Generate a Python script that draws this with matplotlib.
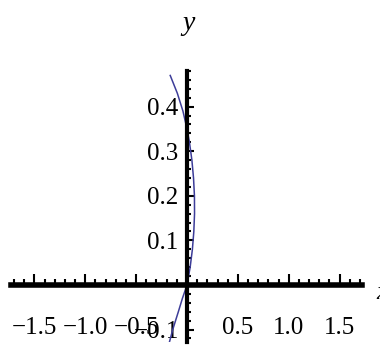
import matplotlib.pyplot as plt
from matplotlib.ticker import MultipleLocator

# points (x as a function of y)
curve_y = [-0.13, -0.10, -0.06, -0.03, 0.0, 0.04, 0.08, 0.12, 0.16, 0.20,
           0.24, 0.28, 0.32, 0.35, 0.39, 0.43, 0.45, 0.47]
curve_x = [-0.175, -0.14, -0.085, -0.045, 0.0, 0.031, 0.053, 0.067, 0.074, 0.073,
           0.064, 0.048, 0.024, 0.0, -0.04, -0.095, -0.13, -0.165]

xtick_vals = [-1.5, -1.0, -0.5, 0.5, 1.0, 1.5]
xtick_labels = ['\u22121.5', '\u22121.0', '\u22120.5', '0.5', '1.0', '1.5']
ytick_vals = [-0.1, 0.1, 0.2, 0.3, 0.4]
ytick_labels = ['\u22120.1', '0.1', '0.2', '0.3', '0.4']

plt.rcParams['font.family'] = ['Liberation Serif', 'DejaVu Serif']

fig = plt.figure(figsize=(3.8, 3.52), dpi=100)
ax = fig.add_axes([11 / 380, 10 / 352, 351 / 380, 271 / 352])

ax.plot(curve_x, curve_y, color='#3d3d99', lw=1.1)

ax.set_xlim(-1.73, 1.72)
ax.set_ylim(-0.128, 0.48)

ax.spines['left'].set_position(('data', 0))
ax.spines['bottom'].set_position(('data', 0))
ax.spines['top'].set_visible(False)
ax.spines['right'].set_visible(False)
ax.spines['left'].set_linewidth(3)
ax.spines['bottom'].set_linewidth(4)

ax.set_xticks(xtick_vals)
ax.set_xticklabels(xtick_labels)
ax.set_yticks(ytick_vals)
ax.set_yticklabels(ytick_labels)
ax.xaxis.set_minor_locator(MultipleLocator(0.1))
ax.yaxis.set_minor_locator(MultipleLocator(0.02))

ax.tick_params(axis='x', which='major', direction='in', length=8, width=1.5,
               labelsize=18, pad=23)
ax.tick_params(axis='x', which='minor', direction='in', length=4, width=1.5)
ax.tick_params(axis='y', which='major', direction='in', length=5, width=1.5,
               labelsize=18, pad=6)
ax.tick_params(axis='y', which='minor', direction='in', length=3, width=1.5)

ax.patch.set_visible(False)

fig.text(188 / 380, 1 - 24 / 352, 'y', ha='center', va='center',
         fontsize=20, style='italic')
fig.text(376 / 380, 1 - 293 / 352, 'x', ha='left', va='center',
         fontsize=19, style='italic')

fig.savefig('out.png', dpi=100)
